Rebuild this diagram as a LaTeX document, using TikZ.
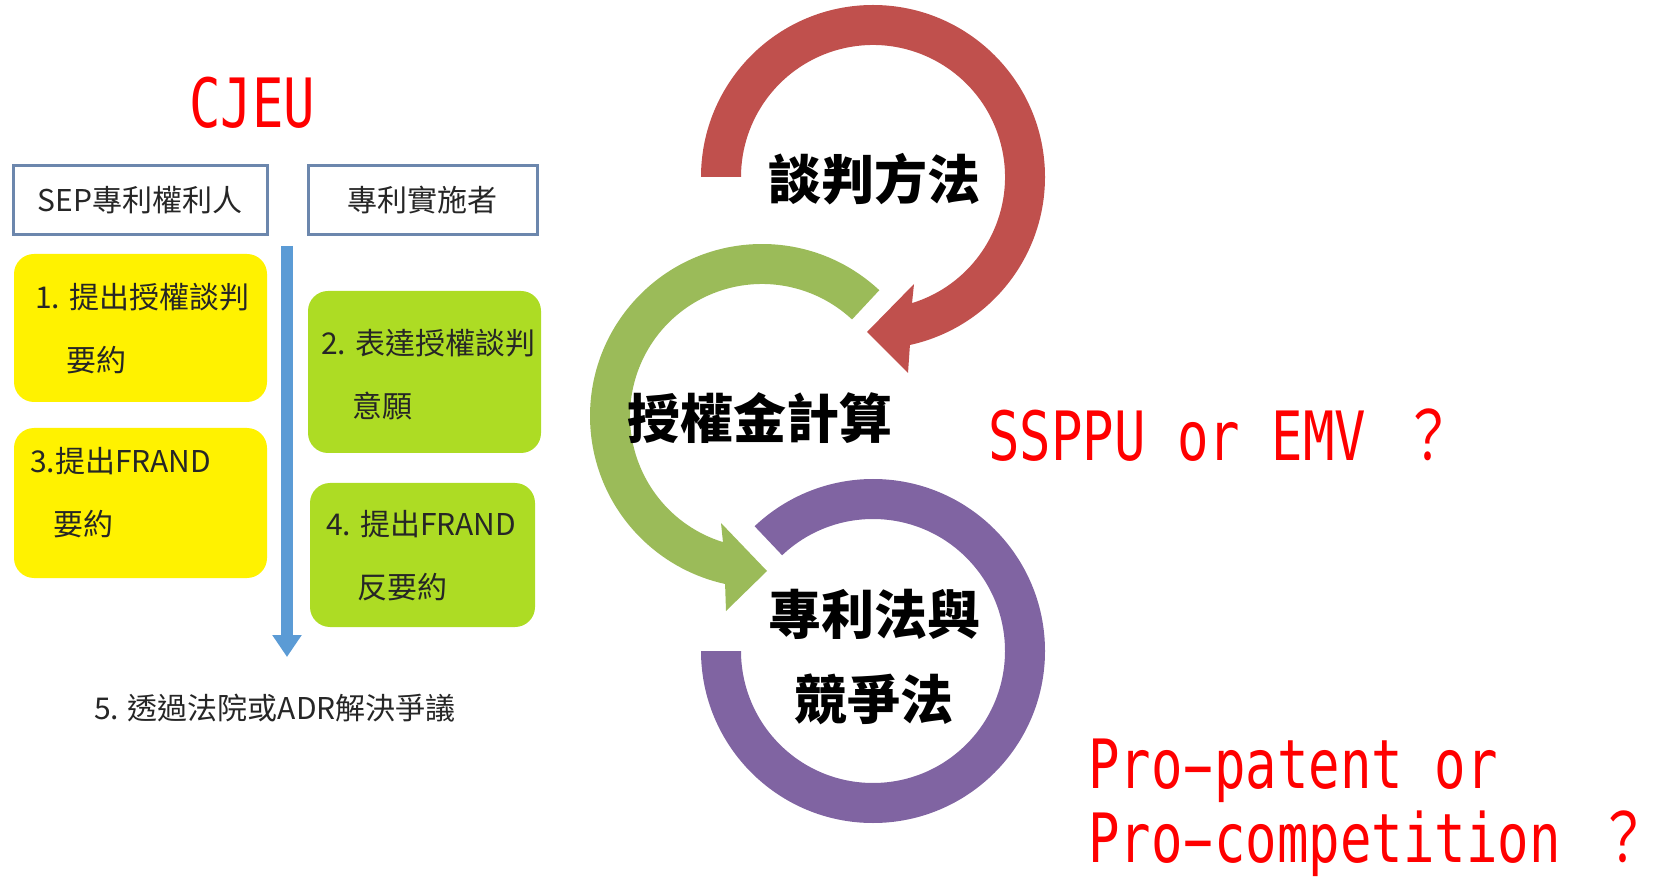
\documentclass[tikz,border=0pt]{standalone}
\usepackage{fontspec}
\newfontfamily\cjk{Noto Sans CJK TC}
\newfontfamily\redmono{DejaVu Sans Mono}
\usetikzlibrary{arrows.meta}
\definecolor{ringred}{HTML}{C0504D}
\definecolor{ringgreen}{HTML}{9BBB59}
\definecolor{ringpurple}{HTML}{8064A2}
\definecolor{boxyellow}{HTML}{FFF200}
\definecolor{boxlime}{HTML}{ADDC24}
\definecolor{frameblue}{HTML}{6C87AD}
\definecolor{flowblue}{HTML}{5B9BD5}
\definecolor{paneltextc}{HTML}{262626}
\newcommand{\tallmono}[1]{\scalebox{1}[1.3]{#1}}
\newcommand{\widehyph}{\makebox[0.602em]{\scalebox{1.9}[1]{-}}}
\begin{document}
\begin{tikzpicture}[x=1pt,y=1pt,
  headbox/.style={draw=frameblue, line width=3pt, fill=white, inner sep=0pt,
    font=\cjk\fontsize{30}{36}\selectfont, text=paneltextc},
  stepyellow/.style={fill=boxyellow, rounded corners=20pt, inner sep=0pt},
  steplime/.style={fill=boxlime, rounded corners=20pt, inner sep=0pt},
  paneltext/.style={font=\cjk\fontsize{30}{63}\selectfont, text=paneltextc, inner sep=0pt, align=left},
  ringtext/.style={font=\cjk\bfseries\fontsize{53}{85}\selectfont, inner sep=0pt, align=center},
  redtext/.style={font=\redmono\fontsize{52.3}{78}\selectfont, text=red, inner sep=0pt, align=left}]
\useasboundingbox (0,0) rectangle (1667,879);

% ---------- left panel ----------
\node[headbox, minimum width=254pt, minimum height=69pt] (hdrA) at (140,678.5) {SEP專利權利人};
\node[headbox, minimum width=229pt, minimum height=69pt] (hdrB) at (422.5,678.5) {專利實施者};

\node[stepyellow, minimum width=253pt, minimum height=148pt] (step1) at (140.5,551) {};
\node[steplime, minimum width=233pt, minimum height=162pt] (step2) at (424.5,507) {};
\node[stepyellow, minimum width=253pt, minimum height=150pt] (step3) at (140.5,376) {};
\node[steplime, minimum width=225pt, minimum height=144pt] (step4) at (422.5,324) {};

\node[paneltext, anchor=west] (t1) at (35,550) {1. 提出授權談判\\\hspace*{1.03em}要約};
\node[paneltext, anchor=west] (t2) at (321,504.5) {2. 表達授權談判\\\hspace*{1.03em}意願};
\node[paneltext, anchor=west] (t3) at (30,386.5) {3.提出FRAND\\\hspace*{0.77em}要約};
\node[paneltext, anchor=west] (t4) at (326,323) {4. 提出FRAND\\\hspace*{1.03em}反要約};

\coordinate (flowtop) at (287,633);
\coordinate (flowend) at (287,222);
\draw[line width=12pt, flowblue, -{Triangle[width=28pt,length=22pt]}] (flowtop) -- (flowend);

\node[paneltext] (settle) at (275,171) {5. 透過法院或ADR解決爭議};

% ---------- rings ----------
\begin{scope}[shift={(873,702)}]
\fill[ringred] (180:172) arc[start angle=180, end angle=-77.6, radius=172]
  -- (35,-196) -- (-6,-155) -- (41,-107) -- (-72.8:132)
  arc[start angle=-72.8, end angle=180, radius=132] -- cycle;
\end{scope}
\begin{scope}[shift={(762,463)}]
\fill[ringgreen] (47:172) arc[start angle=47, end angle=257.6, radius=172]
  -- (-36,-195) -- (5,-155) -- (-41,-107) -- (252.8:132)
  arc[start angle=252.8, end angle=47, radius=132] -- cycle;
\end{scope}
\begin{scope}[shift={(873,228)}]
\fill[ringpurple] (180:172) arc[start angle=180, end angle=493.5, radius=172]
  -- (493.5:132) arc[start angle=493.5, end angle=180, radius=132] -- cycle;
\end{scope}

\node[ringtext] (nego) at (874,700) {談判方法};
\node[ringtext] (royal) at (760,461) {授權金計算};
\node[ringtext] (law) at (874,222) {專利法與\\競爭法};

% ---------- red notes ----------
\node[redtext, anchor=base west] (cjeu) at (189,751) {\tallmono{CJEU}};
\node[redtext, anchor=base west] (base) at (988,418) {\tallmono{SSPPU or EMV \makebox[1.204em]{\cjk ？}}};
\node[redtext, anchor=base west] (policy1) at (1088,91) {\tallmono{Pro\widehyph patent or}};
\node[redtext, anchor=base west] (policy2) at (1088,17) {\tallmono{Pro\widehyph competition \makebox[1.204em]{\cjk ？}}};
\end{tikzpicture}
\end{document}
